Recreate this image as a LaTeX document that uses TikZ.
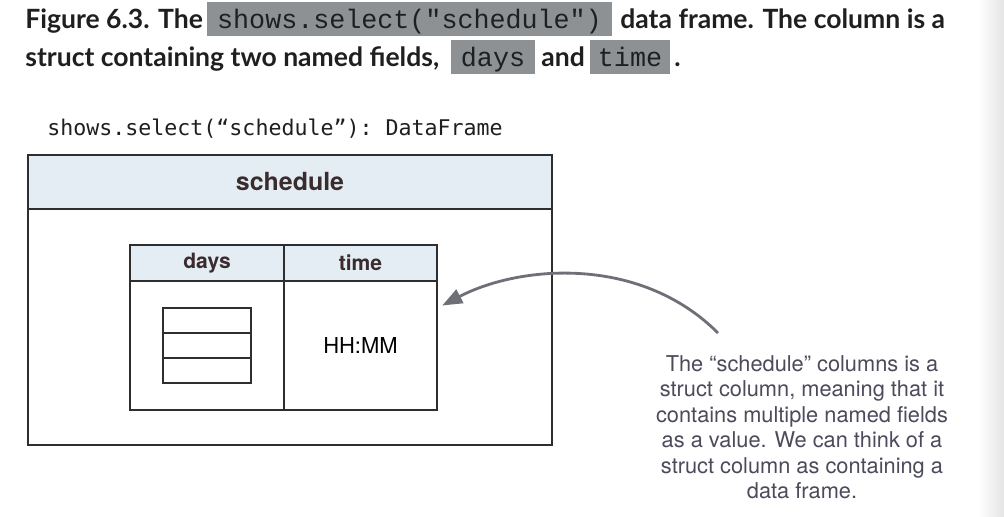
\documentclass[tikz,border=0pt]{standalone}
\usepackage{fontspec}
\setmainfont{TeX Gyre Heros}
\setmonofont{DejaVu Sans Mono}
\newfontfamily\titlefont{Lato}
\newfontfamily\codefont{Liberation Mono}
\usetikzlibrary{arrows.meta, positioning}

\definecolor{headblue}{HTML}{E4ECF4}
\definecolor{framegray}{HTML}{2E2E2E}
\definecolor{codegray}{HTML}{8D9194}
\definecolor{notegray}{HTML}{4B4B5C}
\definecolor{arrowgray}{HTML}{6F6F78}
\definecolor{headtext}{HTML}{3A2C2C}

\begin{document}
\begin{tikzpicture}[
  x=0.02cm, y=-0.02cm,
  titletext/.style={anchor=base west, inner sep=0pt, text=black!88,
                    font=\titlefont\bfseries\fontsize{15.1pt}{18pt}\selectfont},
  codebox/.style={anchor=base, fill=codegray, inner sep=0pt,
                  text height=0.55cm, text depth=0.14cm,
                  text=black!88, font=\codefont\fontsize{15.2pt}{18pt}\selectfont},
  header/.style={draw=framegray, line width=0.8pt, fill=headblue, outer sep=0pt,
                 text=headtext, font=\bfseries\fontsize{12pt}{14pt}\selectfont},
  cell/.style={draw=framegray, line width=0.8pt, fill=white, outer sep=0pt,
               font=\fontsize{12.5pt}{14pt}\selectfont},
  slot/.style={draw=framegray, line width=0.8pt, outer sep=0pt,
               minimum width=1.76cm, minimum height=0.5cm},
  pointer/.style={-{Triangle[length=0.4cm, width=0.3cm]}, line width=1.6pt,
                  draw=arrowgray},
]
\useasboundingbox (0,0) rectangle (1004,517);
\fill[white] (0,0) rectangle (1004,517);
\shade[left color=white, right color=black!10] (978,0) rectangle (1004,517);

% caption
\node[titletext] (t1) at (25,29) {Figure 6.3. The};
\node[codebox, minimum width=8.1cm] (c1) at (409.5,29) {shows.select("schedule")};
\node[titletext] (t2) at (620,29) {data frame. The column is a};
\node[titletext] (t3) at (25,67) {struct containing two named fields,};
\node[codebox, minimum width=1.68cm] (c2) at (493,67) {days};
\node[titletext] (t4) at (541,67) {and};
\node[codebox, minimum width=1.6cm] (c3) at (630,67) {time};
\node[titletext] (t5) at (674,67) {.};

% data frame
\node[anchor=base west, inner sep=0pt, text=black!88,
      font=\ttfamily\fontsize{12.3pt}{14pt}\selectfont] (label) at (47,135)
      {shows.select(“schedule”): DataFrame};
\node[header, minimum width=10.48cm, minimum height=1.08cm,
      font=\bfseries\fontsize{14.2pt}{16pt}\selectfont] (sched) at (290,182) {schedule};
\node[cell, minimum width=10.48cm, minimum height=4.72cm, below=0pt of sched] (frame) {};

% struct
\node[header, minimum width=3.08cm, minimum height=0.72cm] (dayshead) at (207,263) {days};
\node[header, minimum width=3.06cm, minimum height=0.72cm, right=0pt of dayshead] (timehead) {time};
\node[cell, minimum width=3.08cm, minimum height=2.58cm, below=0pt of dayshead] (daysbody) {};
\node[cell, minimum width=3.06cm, minimum height=2.58cm, below=0pt of timehead] (timebody) {HH:MM};
\node[slot] (midslot) at (207,345.5) {};
\node[slot, above=0pt of midslot] (topslot) {};
\node[slot, below=0pt of midslot] (botslot) {};

% note
\node[anchor=north, inner sep=0pt, align=center, text=notegray,
      font=\fontsize{12.4pt}{14.5pt}\selectfont] (note) at (802,355)
      {The “schedule” columns is a\\struct column, meaning that it\\contains multiple named fields\\
       as a value. We can think of a\\struct column as containing a\\data frame.};
\coordinate (tail) at (718,333);
\coordinate (tip) at ([xshift=3pt, yshift=0.8cm]timebody.east);
\draw[pointer] (tail) .. controls (640,255) and (520,265) .. (tip);
\end{tikzpicture}
\end{document}
